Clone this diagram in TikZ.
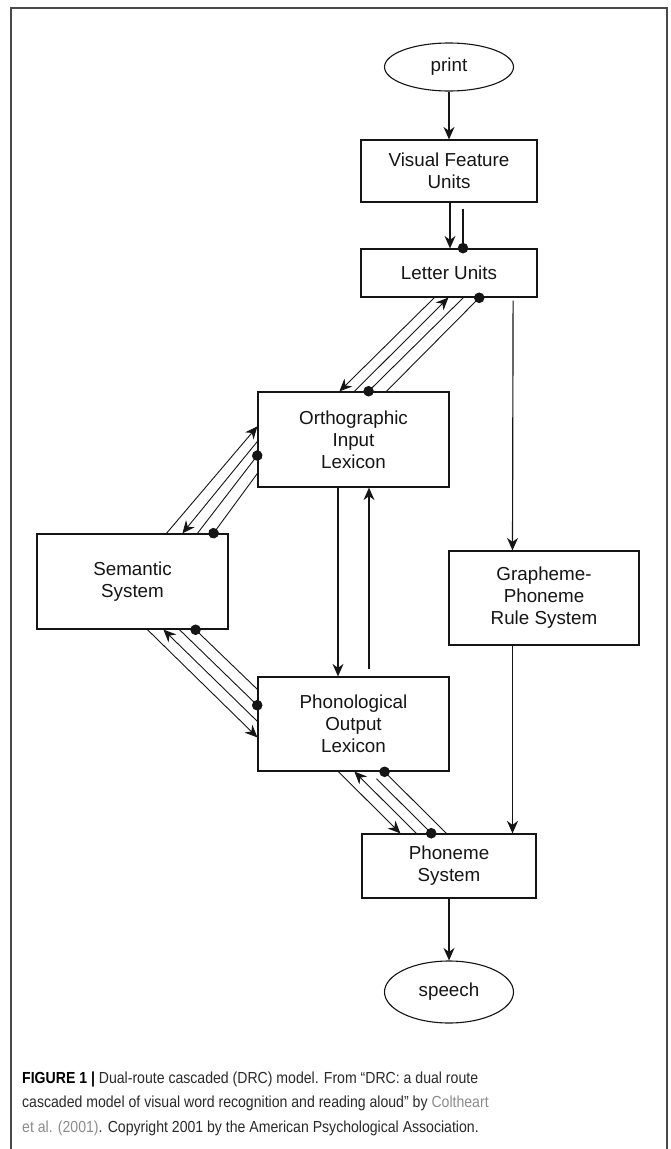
\documentclass[tikz,border=0pt]{standalone}
\usepackage{fontspec}
\setmainfont{Liberation Sans}
\newfontfamily\capfont{Liberation Sans}[FakeStretch=0.88]
\usetikzlibrary{arrows.meta,calc,shapes.geometric}
\definecolor{ink}{HTML}{151515}
\definecolor{capgray}{HTML}{8C8C8C}
\definecolor{captext}{HTML}{2A2A2A}
\definecolor{framec}{HTML}{4A4A4A}
\begin{document}
\begin{tikzpicture}[x=1pt,y=-1pt,
  box/.style={draw=ink,line width=1.2pt,rectangle,inner sep=0pt,align=center,
    font=\fontsize{18.8}{22}\selectfont,text=ink},
  oval/.style={draw=ink,line width=1.1pt,ellipse,inner sep=0pt,
    font=\fontsize{18.8}{22}\selectfont,text=ink},
  heavylink/.style={draw=ink,line width=1.4pt},
  midlink/.style={draw=ink,line width=1.15pt},
  link/.style={draw=ink,line width=0.9pt},
  tip/.style={-{Stealth[length=12.5pt,width=11pt,inset=4pt]}},
  blob/.style={shorten >=-5pt,-{Circle[length=10.5pt]}},
  captxt/.style={anchor=base west,inner sep=0pt,text=captext,
    font=\capfont\fontsize{16}{24}\selectfont}]
\useasboundingbox (0,0) rectangle (670,1149);
\fill[white] (0,0) rectangle (670,1149);
\draw[framec,line width=1.6pt] (11,1149) -- (11,8) -- (667,8) -- (667,1149);

% nodes
\node[oval,minimum width=129,minimum height=48] (print) at (449,67) {print};
\node[box,minimum width=176,minimum height=62] (vfu) at (449,171) {Visual Feature\\Units};
\node[box,minimum width=176,minimum height=48] (lu) at (449,273) {Letter Units};
\node[box,minimum width=191,minimum height=95] (oil) at (353.5,439.5) {Orthographic\\Input\\Lexicon};
\node[box,minimum width=191,minimum height=95] (sem) at (132.5,581.5) {Semantic\\System};
\node[box,minimum width=190,minimum height=94] (gpr) at (544,598) {Grapheme-\\Phoneme\\Rule System};
\node[box,minimum width=191,minimum height=94] (pol) at (353.5,724) {Phonological\\Output\\Lexicon};
\node[box,minimum width=174,minimum height=64] (phs) at (449,866) {Phoneme\\System};
\node[oval,minimum width=129,minimum height=62] (speech) at (449,992) {speech};

% vertical links
\draw[heavylink,tip] (print) -- (vfu);
\draw[heavylink,tip] ($(vfu.south)+(1,0)$) -- ($(lu.north)+(1,0)$);
\draw[heavylink,blob] ($(vfu.south)+(14,6)$) -- ($(lu.north)+(14,0)$);
\draw[midlink,tip] ($(lu.south east)+(-24.5,3)$) -- ($(gpr.north)+(-31.5,0)$);
\draw[midlink,tip] ($(gpr.south)+(-31.5,0)$) -- ($(phs.north)+(63.5,0)$);
\draw[heavylink,tip] ($(oil.south)+(-15.5,0)$) -- ($(pol.north)+(-15.5,0)$);
\draw[heavylink,tip] ($(pol.north)+(15.5,-7)$) -- ($(oil.south)+(15.5,0)$);
\draw[heavylink,tip] (phs) -- (speech);

% Letter Units <-> Orthographic Input Lexicon
\draw[link,tip] ($(lu.south west)+(74,0)$) -- ($(oil.north west)+(82,0)$);
\draw[link,tip] ($(oil.north west)+(97,0)$) -- ($(lu.south west)+(88,0)$);
\draw[link,blob] ($(lu.south west)+(103,0)$) -- ($(oil.north west)+(111,0)$);
\draw[link,blob] ($(oil.north west)+(129,0)$) -- ($(lu.south west)+(119,0)$);

% Semantic <-> Orthographic Input Lexicon
\draw[link,tip] ($(sem.north west)+(130,0)$) -- ($(oil.north west)+(0,35)$);
\draw[link,tip] ($(oil.north west)+(0,50)$) -- ($(sem.north west)+(146,0)$);
\draw[link,blob] ($(sem.north west)+(161,0)$) -- ($(oil.north west)+(0,64)$);
\draw[link,blob] ($(oil.north west)+(0,82)$) -- ($(sem.north west)+(177,0)$);

% Semantic <-> Phonological Output Lexicon
\draw[link,tip] ($(sem.south west)+(111,0)$) -- ($(pol.north west)+(0,61)$);
\draw[link,tip] ($(pol.north west)+(0,45)$) -- ($(sem.south west)+(127,0)$);
\draw[link,blob] ($(sem.south west)+(143,0)$) -- ($(pol.north west)+(0,29)$);
\draw[link,blob] ($(pol.north west)+(0,13)$) -- ($(sem.south west)+(159,0)$);

% Phonological Output Lexicon <-> Phoneme System
\draw[link,tip] ($(pol.south west)+(81,0)$) -- ($(phs.north west)+(39,0)$);
\draw[link,tip] ($(phs.north west)+(55,0)$) -- ($(pol.south west)+(97,0)$);
\draw[link,blob] ($(pol.south west)+(119,7)$) -- ($(phs.north west)+(70,0)$);
\draw[link,blob] ($(phs.north west)+(85,0)$) -- ($(pol.south west)+(127,0)$);

% caption
\node[captxt] (cap1) at (22,1083) {\textcolor{black}{\textbf{FIGURE 1 |}} Dual-route cascaded (DRC) model. From “DRC: a dual route};
\node[captxt] (cap2) at (22,1107.5) {cascaded model of visual word recognition and reading aloud” by \textcolor{capgray}{Coltheart}};
\node[captxt] (cap3) at (22,1132) {\textcolor{capgray}{et al. (2001)}. Copyright 2001 by the American Psychological Association.};
\end{tikzpicture}
\end{document}
